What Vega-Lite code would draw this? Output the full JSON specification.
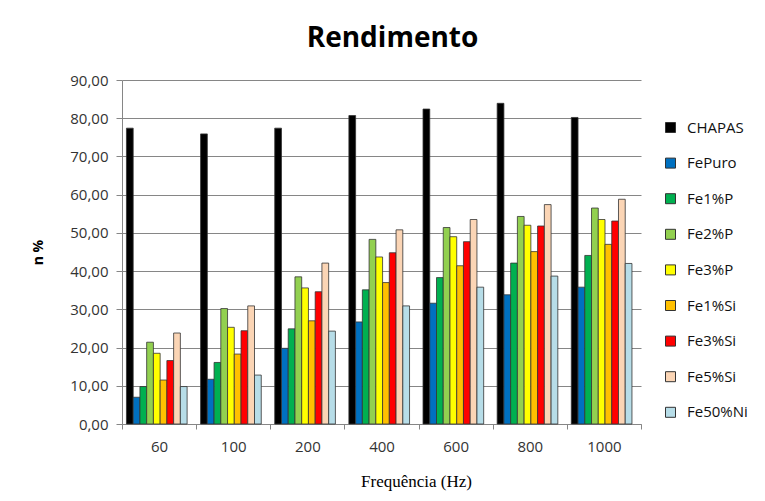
{
  "$schema": "https://vega.github.io/schema/vega-lite/v6.json",
  "width": 519,
  "height": 344,
  "autosize": {"type": "none"},
  "padding": {"left": 122, "top": 80, "right": 124, "bottom": 77},
  "background": "white",
  "title": {
    "text": "Rendimento",
    "font": "Open Sans",
    "fontSize": 28,
    "fontWeight": "bold",
    "color": "#000000",
    "anchor": "middle",
    "dx": 11,
    "offset": 20
  },
  "data": {
    "values": [
      {"freq": "60", "material": "CHAPAS", "value": 77.4},
      {"freq": "60", "material": "FePuro", "value": 7.0},
      {"freq": "60", "material": "Fe1%P", "value": 9.8},
      {"freq": "60", "material": "Fe2%P", "value": 21.4},
      {"freq": "60", "material": "Fe3%P", "value": 18.5},
      {"freq": "60", "material": "Fe1%Si", "value": 11.5},
      {"freq": "60", "material": "Fe3%Si", "value": 16.6},
      {"freq": "60", "material": "Fe5%Si", "value": 23.8},
      {"freq": "60", "material": "Fe50%Ni", "value": 9.8},
      {"freq": "100", "material": "CHAPAS", "value": 75.9},
      {"freq": "100", "material": "FePuro", "value": 11.7},
      {"freq": "100", "material": "Fe1%P", "value": 16.1},
      {"freq": "100", "material": "Fe2%P", "value": 30.2},
      {"freq": "100", "material": "Fe3%P", "value": 25.3},
      {"freq": "100", "material": "Fe1%Si", "value": 18.3},
      {"freq": "100", "material": "Fe3%Si", "value": 24.4},
      {"freq": "100", "material": "Fe5%Si", "value": 30.9},
      {"freq": "100", "material": "Fe50%Ni", "value": 12.8},
      {"freq": "200", "material": "CHAPAS", "value": 77.4},
      {"freq": "200", "material": "FePuro", "value": 19.8},
      {"freq": "200", "material": "Fe1%P", "value": 24.9},
      {"freq": "200", "material": "Fe2%P", "value": 38.5},
      {"freq": "200", "material": "Fe3%P", "value": 35.6},
      {"freq": "200", "material": "Fe1%Si", "value": 27.0},
      {"freq": "200", "material": "Fe3%Si", "value": 34.6},
      {"freq": "200", "material": "Fe5%Si", "value": 42.1},
      {"freq": "200", "material": "Fe50%Ni", "value": 24.3},
      {"freq": "400", "material": "CHAPAS", "value": 80.7},
      {"freq": "400", "material": "FePuro", "value": 26.7},
      {"freq": "400", "material": "Fe1%P", "value": 35.1},
      {"freq": "400", "material": "Fe2%P", "value": 48.3},
      {"freq": "400", "material": "Fe3%P", "value": 43.7},
      {"freq": "400", "material": "Fe1%Si", "value": 37.0},
      {"freq": "400", "material": "Fe3%Si", "value": 44.8},
      {"freq": "400", "material": "Fe5%Si", "value": 50.8},
      {"freq": "400", "material": "Fe50%Ni", "value": 30.9},
      {"freq": "600", "material": "CHAPAS", "value": 82.4},
      {"freq": "600", "material": "FePuro", "value": 31.6},
      {"freq": "600", "material": "Fe1%P", "value": 38.3},
      {"freq": "600", "material": "Fe2%P", "value": 51.4},
      {"freq": "600", "material": "Fe3%P", "value": 49.0},
      {"freq": "600", "material": "Fe1%Si", "value": 41.4},
      {"freq": "600", "material": "Fe3%Si", "value": 47.7},
      {"freq": "600", "material": "Fe5%Si", "value": 53.5},
      {"freq": "600", "material": "Fe50%Ni", "value": 35.8},
      {"freq": "800", "material": "CHAPAS", "value": 83.9},
      {"freq": "800", "material": "FePuro", "value": 33.8},
      {"freq": "800", "material": "Fe1%P", "value": 42.1},
      {"freq": "800", "material": "Fe2%P", "value": 54.3},
      {"freq": "800", "material": "Fe3%P", "value": 52.0},
      {"freq": "800", "material": "Fe1%Si", "value": 45.1},
      {"freq": "800", "material": "Fe3%Si", "value": 51.8},
      {"freq": "800", "material": "Fe5%Si", "value": 57.4},
      {"freq": "800", "material": "Fe50%Ni", "value": 38.7},
      {"freq": "1000", "material": "CHAPAS", "value": 80.2},
      {"freq": "1000", "material": "FePuro", "value": 35.8},
      {"freq": "1000", "material": "Fe1%P", "value": 44.1},
      {"freq": "1000", "material": "Fe2%P", "value": 56.5},
      {"freq": "1000", "material": "Fe3%P", "value": 53.5},
      {"freq": "1000", "material": "Fe1%Si", "value": 47.0},
      {"freq": "1000", "material": "Fe3%Si", "value": 53.1},
      {"freq": "1000", "material": "Fe5%Si", "value": 58.8},
      {"freq": "1000", "material": "Fe50%Ni", "value": 42.0}
    ]
  },
  "mark": {"type": "bar", "stroke": "#333333", "strokeWidth": 0.8},
  "encoding": {
    "x": {
      "field": "freq",
      "type": "nominal",
      "sort": ["60", "100", "200", "400", "600", "800", "1000"],
      "scale": {"paddingInner": 0, "paddingOuter": 0},
      "axis": {
        "title": "Frequência (Hz)",
        "titleFont": "Liberation Serif",
        "titleFontSize": 17,
        "titleFontWeight": "normal",
        "titleColor": "#000000",
        "titlePadding": 19,
        "titleX": 294,
        "labelAngle": 0,
        "labelFont": "Open Sans",
        "labelFontSize": 15,
        "labelColor": "#333333",
        "labelPadding": 10,
        "tickBand": "extent",
        "tickSize": 5,
        "tickColor": "#868686",
        "domainColor": "#868686",
        "grid": false
      }
    },
    "xOffset": {
      "field": "material",
      "type": "nominal",
      "sort": ["CHAPAS", "FePuro", "Fe1%P", "Fe2%P", "Fe3%P", "Fe1%Si", "Fe3%Si", "Fe5%Si", "Fe50%Ni"],
      "scale": {"paddingInner": 0, "paddingOuter": 1.15, "align": 0.33}
    },
    "y": {
      "field": "value",
      "type": "quantitative",
      "scale": {"domain": [0, 90], "nice": false},
      "axis": {
        "title": "n %",
        "titleFont": "Open Sans",
        "titleFontSize": 14,
        "titleFontWeight": "bold",
        "titleColor": "#000000",
        "titlePadding": 24,
        "values": [0, 10, 20, 30, 40, 50, 60, 70, 80, 90],
        "labelExpr": "replace(format(datum.value, '.2f'), '.', ',')",
        "labelFont": "Open Sans",
        "labelFontSize": 15,
        "labelColor": "#333333",
        "labelPadding": 8,
        "tickSize": 6,
        "tickColor": "#868686",
        "domainColor": "#868686",
        "grid": true,
        "gridColor": "#868686",
        "gridWidth": 1
      }
    },
    "color": {
      "field": "material",
      "type": "nominal",
      "scale": {
        "domain": ["CHAPAS", "FePuro", "Fe1%P", "Fe2%P", "Fe3%P", "Fe1%Si", "Fe3%Si", "Fe5%Si", "Fe50%Ni"],
        "range": ["#000000", "#0070C0", "#00B050", "#92D050", "#FFFF00", "#FFC000", "#FF0000", "#FBD5B5", "#B7DDE8"]
      },
      "legend": {
        "title": null,
        "orient": "none",
        "legendX": 541,
        "legendY": 40,
        "symbolType": "square",
        "symbolSize": 100,
        "symbolStrokeColor": "#333333",
        "symbolStrokeWidth": 1,
        "labelFont": "Open Sans",
        "labelFontSize": 15,
        "labelColor": "#111111",
        "labelOffset": 9,
        "rowPadding": 19.6
      }
    }
  },
  "config": {
    "view": {"stroke": null}
  }
}
